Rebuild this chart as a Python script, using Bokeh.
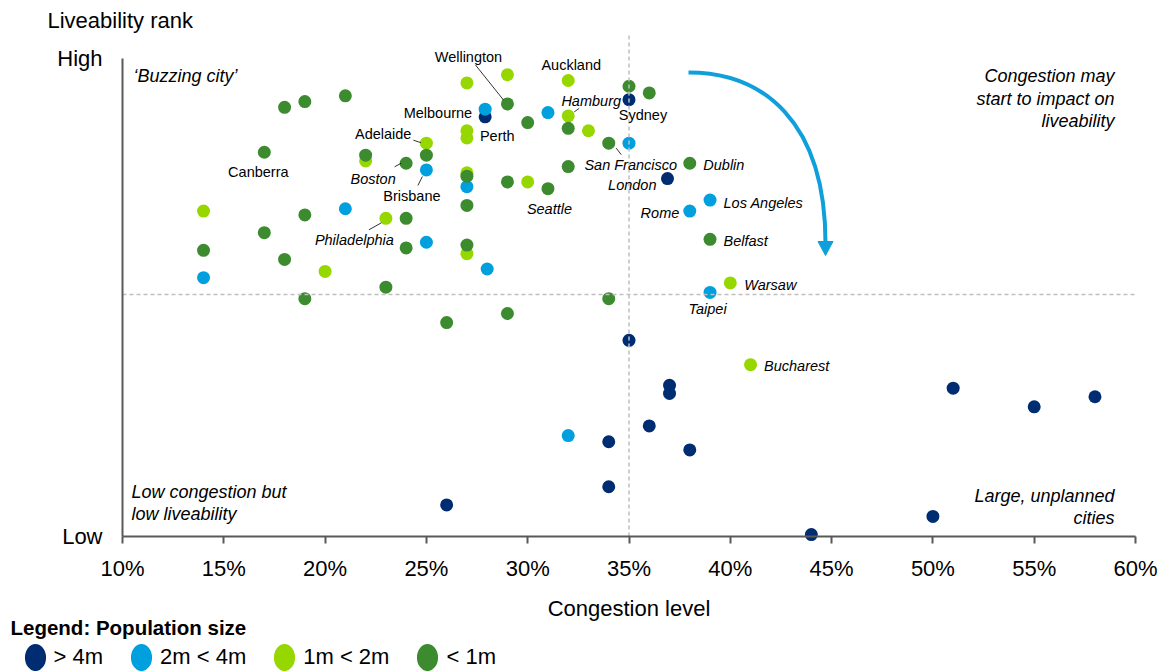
from bokeh.plotting import figure
from bokeh.models import (Range1d, FixedTicker, PrintfTickFormatter, Label,
                          LinearAxis, Legend, LegendItem)
from bokeh.embed import file_html
from bokeh.resources import INLINE

FONT = "Liberation Sans"

# ---------------------------------------------------------------------------
# Data: congestion level (%) against liveability score (0 = low, 100 = high),
# one list per population band. Names are given for the labelled cities only.
# ---------------------------------------------------------------------------
BANDS = ["> 4m", "2m < 4m", "1m < 2m", "< 1m"]
BAND_COLORS = ["#002D72", "#00A0DF", "#97D700", "#3D8B2F"]

over4m_x = [35.0, 27.9, 36.9, 35.0, 37.0, 37.0, 36.0, 34.0, 38.0, 34.0, 26.0, 44.0, 51.0, 55.0, 58.0, 50.0]
over4m_y = [91.3, 87.7, 74.8, 41.0, 31.6, 29.9, 23.1, 19.8, 18.1, 10.4, 6.6, 0.4, 31.0, 27.1, 29.2, 4.2]
over4m_name = ["Sydney", "Melbourne", "London", "", "", "", "", "", "", "", "", "", "", "", "", ""]

m2to4_x = [27.9, 31.0, 35.0, 25.0, 27.0, 21.0, 25.0, 28.0, 14.0, 38.0, 39.0, 39.0, 32.0]
m2to4_y = [89.3, 88.6, 82.2, 76.6, 73.1, 68.5, 61.5, 55.9, 54.1, 68.0, 70.3, 51.0, 21.1]
m2to4_name = ["", "", "", "Brisbane", "", "", "", "", "", "Rome", "Los Angeles", "Taipei", ""]

m1to2_x = [27.0, 29.0, 32.0, 32.0, 33.0, 27.0, 27.0, 25.0, 22.0, 27.0, 30.0, 14.0, 23.0, 27.0, 20.0, 40.0, 41.0]
m1to2_y = [94.8, 96.5, 95.3, 87.9, 84.8, 84.8, 83.3, 82.2, 78.5, 76.0, 74.1, 68.0, 66.5, 59.1, 55.4, 53.0, 35.9]
m1to2_name = ["", "", "Auckland", "Hamburg", "", "", "Perth", "Adelaide", "", "", "", "",
              "Philadelphia", "", "", "Warsaw", "Bucharest"]

under1m_x = [18.0, 19.0, 21.0, 17.0, 22.0, 24.0, 25.0, 29.0, 30.0, 32.0, 34.0, 35.0, 36.0, 32.0, 38.0, 27.0,
             29.0, 31.0, 27.0, 19.0, 24.0, 17.0, 14.0, 24.0, 27.0, 18.0, 23.0, 19.0, 34.0, 26.0, 29.0, 39.0]
under1m_y = [89.7, 90.9, 92.1, 80.3, 79.7, 78.0, 79.7, 90.4, 86.5, 85.3, 82.2, 94.1, 92.7, 77.3, 78.0, 75.3,
             74.1, 72.7, 69.2, 67.2, 66.5, 63.5, 59.8, 60.3, 60.9, 57.9, 52.1, 49.7, 49.7, 44.7, 46.6, 62.1]
under1m_name = ["", "", "", "Canberra", "", "Boston", "", "Wellington", "", "", "San Francisco", "", "", "",
                "Dublin", "", "", "Seattle", "", "", "", "", "", "", "", "", "", "", "", "", "", "Belfast"]

SERIES = [
    (over4m_x, over4m_y, over4m_name),
    (m2to4_x, m2to4_y, m2to4_name),
    (m1to2_x, m1to2_y, m1to2_name),
    (under1m_x, under1m_y, under1m_name),
]

X_TICKS = [10, 15, 20, 25, 30, 35, 40, 45, 50, 55, 60]
X_AXIS = (10, 60)     # extent of the congestion axis
Y_AXIS = (0, 100)     # extent of the liveability axis
X_SPLIT = 35          # congestion threshold
Y_SPLIT = 50.6        # liveability threshold

# label placement: offset from the dot in pixels (right, down), alignment,
# italic flag, optional leader line given as two pixel offsets from the dot
LABEL_STYLE = {
    "Wellington":    (-39, -47, "center", False, ((-32, -39), (-4, -4))),
    "Auckland":      (3, -15, "center", False, None),
    "Melbourne":     (-13, -4, "right", False, None),
    "Sydney":        (14, 15, "center", False, None),
    "Hamburg":       (23, -15, "center", True, ((6, -4), (11, -7.5))),
    "Perth":         (13, -2, "left", False, None),
    "Adelaide":      (-15, -9, "right", False, ((-13, -3), (-5.5, -0.5))),
    "Canberra":      (-6, 20, "center", False, None),
    "Boston":        (-33, 16, "center", True, ((-11.5, 3.5), (-5, 0))),
    "Brisbane":      (-14.5, 26, "center", False, ((-8.5, 15.5), (-4, 6.5))),
    "Philadelphia":  (-31.5, 22, "center", True, ((-17, 11.5), (-4.5, 4.5))),
    "Seattle":       (1.5, 20.5, "center", True, None),
    "San Francisco": (22, 22, "center", True, ((7.5, 5), (12.5, 11.5))),
    "London":        (-11, 6, "right", True, None),
    "Dublin":        (13.5, 1.5, "left", True, None),
    "Los Angeles":   (13.5, 2.5, "left", True, None),
    "Rome":          (-10.5, 1.5, "right", True, None),
    "Belfast":       (13.5, 1.5, "left", True, None),
    "Warsaw":        (14, 2, "left", True, None),
    "Taipei":        (-2.5, 16.5, "center", True, None),
    "Bucharest":     (13.5, 1.5, "left", True, None),
}

# ---------------------------------------------------------------------------
# Canvas geometry: the plotting frame fills the whole canvas and the two axes
# are pinned inside it, leaving room for titles and the legend around them.
# ---------------------------------------------------------------------------
CANVAS_W, CANVAS_H = 1162, 671
AXIS_LEFT_PX, AXIS_RIGHT_PX = 122, 1135      # canvas columns of 10% and 60%
AXIS_BOTTOM_PX, AXIS_TOP_PX = 536, 57.5      # canvas rows of Low and High
PX_X = (AXIS_RIGHT_PX - AXIS_LEFT_PX) / (X_AXIS[1] - X_AXIS[0])
PX_Y = (AXIS_BOTTOM_PX - AXIS_TOP_PX) / (Y_AXIS[1] - Y_AXIS[0])


def sx(px):
    """Canvas pixel column -> data x."""
    return X_AXIS[0] + (px - AXIS_LEFT_PX) / PX_X


def sy(py):
    """Canvas pixel row -> data y."""
    return Y_AXIS[0] + (AXIS_BOTTOM_PX - py) / PX_Y


p = figure(width=CANVAS_W, height=CANVAS_H,
           x_range=Range1d(sx(0), sx(CANVAS_W)), y_range=Range1d(sy(CANVAS_H), sy(0)),
           output_backend="svg", toolbar_location=None, title=None,
           x_axis_location=None, y_axis_location=None, min_border=0)
p.outline_line_color = None
p.grid.visible = False
p.background_fill_color = "white"
p.border_fill_color = "white"

AXIS_GREY = "#595959"

xa = LinearAxis(fixed_location=Y_AXIS[0], bounds=X_AXIS)
xa.ticker = FixedTicker(ticks=X_TICKS)
xa.formatter = PrintfTickFormatter(format="%d%%")
xa.axis_line_color = AXIS_GREY
xa.axis_line_width = 2
xa.major_tick_line_color = AXIS_GREY
xa.major_tick_line_width = 2
xa.major_tick_out = 7
xa.major_tick_in = 0
xa.minor_tick_line_color = None
xa.major_label_text_font = FONT
xa.major_label_text_font_size = "22px"
xa.major_label_text_color = "black"
xa.major_label_standoff = 12
xa.axis_label = "Congestion level"
xa.axis_label_text_font = FONT
xa.axis_label_text_font_size = "22px"
xa.axis_label_text_font_style = "normal"
xa.axis_label_text_color = "black"
xa.axis_label_standoff = 12
p.add_layout(xa, "below")

ya = LinearAxis(fixed_location=X_AXIS[0], bounds=Y_AXIS)
ya.ticker = FixedTicker(ticks=list(Y_AXIS))
ya.major_label_overrides = {0: "Low", 100: "High"}
ya.axis_line_color = AXIS_GREY
ya.axis_line_width = 2
ya.major_tick_out = 0
ya.major_tick_in = 0
ya.minor_tick_line_color = None
ya.major_label_text_font = FONT
ya.major_label_text_font_size = "22px"
ya.major_label_text_color = "black"
ya.major_label_standoff = 20
p.add_layout(ya, "left")

# the dots, one band at a time (smaller populations drawn on top)
for (xs, ys, _), color in zip(SERIES, BAND_COLORS):
    p.scatter(xs, ys, size=13, marker="circle", fill_color=color, line_color=None)

# quadrant dividers (dashed), drawn over the dots
p.segment(x0=[X_SPLIT], y0=[Y_AXIS[0]], x1=[X_SPLIT], y1=[sy(33)],
          line_color="#BFBFBF", line_width=1.5, line_dash="4 3")
p.segment(x0=[X_AXIS[0]], y0=[Y_SPLIT], x1=[X_AXIS[1]], y1=[Y_SPLIT],
          line_color="#BFBFBF", line_width=1.5, line_dash="4 3")

# city labels and leader lines
lead_x0, lead_y0, lead_x1, lead_y1 = [], [], [], []
for xs, ys, names in SERIES:
    for x, y, name in zip(xs, ys, names):
        if not name:
            continue
        dx, dy, align, italic, leader = LABEL_STYLE[name]
        p.add_layout(Label(x=x, y=y, x_offset=dx, y_offset=-dy, text=name,
                           text_align=align, text_baseline="middle",
                           text_font=FONT, text_font_size="14.5px",
                           text_font_style="italic" if italic else "normal",
                           text_color="black"))
        if leader:
            (ax, ay), (bx, by) = leader
            lead_x0.append(x + ax / PX_X)
            lead_y0.append(y - ay / PX_Y)
            lead_x1.append(x + bx / PX_X)
            lead_y1.append(y - by / PX_Y)
p.segment(lead_x0, lead_y0, lead_x1, lead_y1, line_color="black", line_width=0.8)

# curved arrow: high liveability turning to impacted liveability
ARROW_BLUE = "#0FA0DC"
p.bezier(x0=[sx(688)], y0=[sy(72)], x1=[sx(825)], y1=[sy(243)],
         cx0=[sx(762)], cy0=[sy(72)], cx1=[sx(825)], cy1=[sy(120)],
         line_color=ARROW_BLUE, line_width=4)
p.patch([sx(817.5), sx(832.5), sx(825)], [sy(241), sy(241), sy(255)],
        fill_color=ARROW_BLUE, line_color=ARROW_BLUE)


def note(text, px, py, align="left", size="18px", style="italic"):
    p.add_layout(Label(x=sx(px), y=sy(py), text=text, text_align=align,
                       text_baseline="middle", text_font=FONT,
                       text_font_size=size, text_font_style=style,
                       text_color="black"))


note("Liveability rank", 47, 20, size="22px", style="normal")
note("\u2018Buzzing city\u2019", 133, 75)
note("Congestion may", 1114, 75, align="right")
note("start to impact on", 1114, 98, align="right")
note("liveability", 1114, 120, align="right")
note("Low congestion but", 131, 491)
note("low liveability", 131, 513)
note("Large, unplanned", 1114, 495, align="right")
note("cities", 1114, 517, align="right")

# ---------------------------------------------------------------------------
# Population-size legend along the bottom (oval swatches)
# ---------------------------------------------------------------------------
note("Legend: Population size", 10, 627, size="20.5px", style="bold")

items = []
for band, color in zip(BANDS, BAND_COLORS):
    swatch = p.ellipse(x=[sx(-500)], y=[sy(-500)], width=21, height=27,
                       width_units="screen", height_units="screen",
                       fill_color=color, line_color=None)
    items.append(LegendItem(label=band, renderers=[swatch]))

# location: (left edge, lower edge) in pixels from the canvas' bottom-left
legend = Legend(items=items, orientation="horizontal", location=(15.5, -3),
                label_text_font=FONT, label_text_font_size="22px",
                label_text_color="black",
                glyph_width=38, glyph_height=34, label_standoff=0,
                spacing=19, padding=0, margin=0,
                border_line_color=None, background_fill_alpha=0)
p.add_layout(legend)

open("out.html", "w").write(file_html(p, INLINE))
